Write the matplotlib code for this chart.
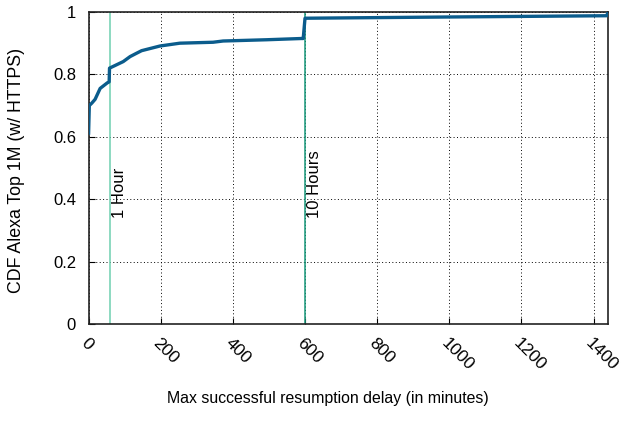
import matplotlib
matplotlib.use("Agg")
import matplotlib.pyplot as plt

# CDF data (minutes, cumulative fraction)
delay_minutes = [0, 2, 9, 18, 32, 52, 57, 58, 96, 115, 130, 147, 198, 253, 345, 373, 493, 590, 595, 600,
                 1000, 1436, 1440]
cdf_values = [0.612, 0.70, 0.708, 0.72, 0.755, 0.773, 0.776, 0.82, 0.841, 0.857, 0.866, 0.876, 0.891, 0.90,
              0.903, 0.907, 0.911, 0.915, 0.915, 0.980, 0.984, 0.988, 0.998]

marker_x = [60, 600]
marker_labels = ["1 Hour", "10 Hours"]
marker_colors = ["#6fd0b0", "#17987a"]

xticks = [0, 200, 400, 600, 800, 1000, 1200, 1400]
yticks = [0, 0.2, 0.4, 0.6, 0.8, 1.0]
ytick_labels = ["0", "0.2", "0.4", "0.6", "0.8", "1"]

plt.rcParams['font.family'] = ['Liberation Sans', 'DejaVu Sans']
FS = 12

fig = plt.figure(figsize=(6.27, 4.36), dpi=100)
ax = fig.add_axes([0.1413, 0.257, 0.9697 - 0.1413, 0.9725 - 0.257])

for xv, lab, col in zip(marker_x, marker_labels, marker_colors):
    ax.axvline(xv, color=col, lw=1.1, zorder=2)
    ax.text(xv + 6, 0.34, lab, rotation=90, ha='left', va='bottom', fontsize=FS, zorder=3)

ax.plot(delay_minutes, cdf_values, color="#0b5c8c", lw=2.4, zorder=4)

ax.set_xlim(0, 1440)
ax.set_ylim(0, 1)
ax.set_xticks(xticks)
ax.set_xticklabels([str(t) for t in xticks], rotation=-45, ha='left', va='top',
                   rotation_mode='anchor', fontsize=12.5)
ax.set_yticks(yticks)
ax.set_yticklabels(ytick_labels, fontsize=FS)
ax.grid(True, color='black', linestyle=(0, (1, 2.5)), linewidth=0.7)
ax.tick_params(direction='in', length=4, width=0.8, pad=9)
ax.tick_params(axis='x', pad=8)
for s in ax.spines.values():
    s.set_linewidth(1.2)
    s.set_color('#222222')

fig.text(0.026, 0.61, "CDF Alexa Top 1M (w/ HTTPS)", rotation=90, ha='center', va='center', fontsize=12.8)
fig.text(0.523, 0.087, "Max successful resumption delay (in minutes)", ha='center', va='center', fontsize=11.4)

fig.savefig("out.png", dpi=100)
